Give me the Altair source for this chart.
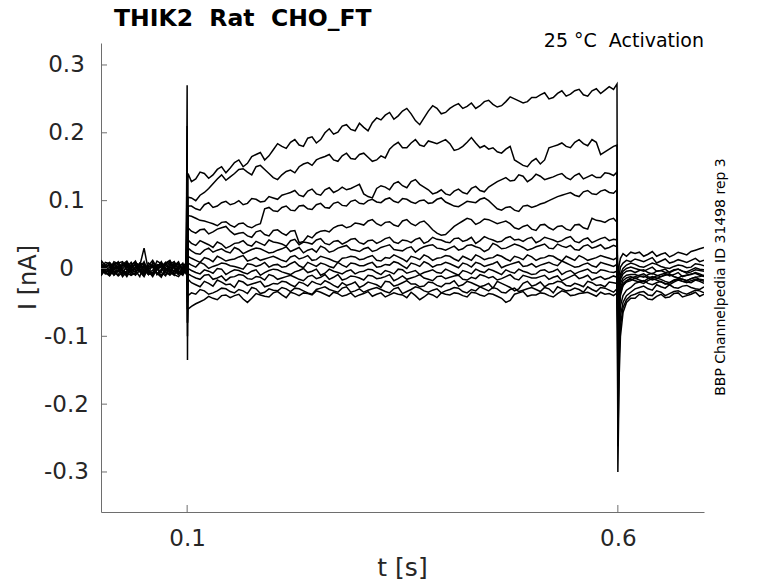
import altair as alt
import pandas as pd

# ---------------- time bases (s) ----------------
T_PRE = [0.0, 0.01, 0.02, 0.03, 0.04, 0.05, 0.06, 0.07, 0.08, 0.09, 0.099]
T_PRE_MID = [0.005, 0.015, 0.025, 0.035, 0.045, 0.055, 0.065, 0.075, 0.085, 0.095]
T_ON = [0.1, 0.1004]
T_STEP = [0.101,
          0.11, 0.12, 0.13, 0.14, 0.15, 0.16, 0.17, 0.18, 0.19, 0.20,
          0.21, 0.22, 0.23, 0.24, 0.25, 0.26, 0.27, 0.28, 0.29, 0.30,
          0.31, 0.32, 0.33, 0.34, 0.35, 0.36, 0.37, 0.38, 0.39, 0.40,
          0.41, 0.42, 0.43, 0.44, 0.45, 0.46, 0.47, 0.48, 0.49, 0.50,
          0.51, 0.52, 0.53, 0.54, 0.55, 0.56, 0.57, 0.58, 0.59,
          0.599]
T_STEP_MID = [0.105, 0.115, 0.125, 0.135, 0.145, 0.155, 0.165, 0.175, 0.185, 0.195,
              0.205, 0.215, 0.225, 0.235, 0.245, 0.255, 0.265, 0.275, 0.285, 0.295,
              0.305, 0.315, 0.325, 0.335, 0.345, 0.355, 0.365, 0.375, 0.385, 0.395,
              0.405, 0.415, 0.425, 0.435, 0.445, 0.455, 0.465, 0.475, 0.485, 0.495,
              0.505, 0.515, 0.525, 0.535, 0.545, 0.555, 0.565, 0.575, 0.585, 0.595]
T_OFF = [0.6, 0.6015, 0.603, 0.606, 0.61, 0.615]
T_POST = [0.62, 0.63, 0.64, 0.65, 0.66, 0.67, 0.68, 0.69, 0.70]
T_POST_MID = [0.625, 0.635, 0.645, 0.655, 0.665, 0.675, 0.685, 0.695]

SWEEPS = ["A", "B", "C", "D", "E", "F", "G", "H", "I", "J", "K", "L", "M", "N"]

# ---------------- currents (pA) ----------------
PRE_PA = {
    "A": [5, -8, 3, -4, 9, -6, 2, -10, 6, -3, 4],
    "B": [-6, 4, -9, 7, -2, 5, -7, 3, -5, 8, -2],
    "C": [10, -3, 6, -8, 1, -4, 12, -6, 2, -9, 5],
    "D": [-2, 7, -5, 9, -10, 3, -6, 8, -3, 6, -7],
    "E": [3, -11, 8, -2, 6, -9, 4, -1, 9, -5, 1],
    "F": [-9, 2, -4, 11, -6, 8, -12, 5, -8, 2, -4],
    "G": [7, -5, 10, -7, 3, -12, 6, -3, 11, -8, 3],
    "H": [-4, 9, -1, 5, -8, 30, -9, 10, -5, 4, -9],
    "I": [1, -7, 4, -12, 8, -2, 9, -11, 3, -6, 7],
    "J": [12, -4, 2, 6, -5, 10, -3, 7, -10, 1, -5],
    "K": [-7, 5, -11, 2, -3, 7, -8, 1, -6, 10, -3],
    "L": [4, -2, 7, -9, 5, -6, 3, -13, 7, -1, 8],
    "M": [-11, 8, -3, 4, -7, 1, -10, 6, -2, -12, 2],
    "N": [6, -10, 1, -5, 11, -8, 5, -4, 12, -7, -1],
}

PRE_MID_PA = {
    "A": [1, -2, -9, 6, 0, -1, -7, -4, 10, -8],
    "B": [3, -5, -1, 2, 8, -8, -2, 9, 3, -4],
    "C": [-5, 8, -2, -3, 7, 4, 1, -11, -4, 2],
    "D": [9, -1, 2, -4, -3, -9, 4, 1, 7, -2],
    "E": [-6, -2, 10, 3, -4, 2, -8, 5, 1, -10],
    "F": [-3, -10, 6, 0, 5, -4, -1, -5, 9, -8],
    "G": [0, 4, -2, -10, -5, 1, -9, 7, 2, -1],
    "H": [5, 2, -8, -6, 4, -3, 1, -2, -10, 6],
    "I": [-8, 2, -3, -1, 5, -9, 0, -4, 6, -2],
    "J": [4, -9, 8, -2, 0, -6, 11, -5, -3, 8],
    "K": [3, -4, -6, 9, -12, -1, 6, -9, 4, -5],
    "L": [-6, 10, -4, 2, -1, 8, -7, 2, -8, 4],
    "M": [-1, -6, 5, -10, 6, -5, 3, -3, -9, -4],
    "N": [-4, 7, -12, 4, -2, 3, -9, 8, 0, -6],
}

ON_PA = {
    "A": [270, -135], "B": [210, -100], "C": [170, -80], "D": [140, -60],
    "E": [110, -50], "F": [90, -40], "G": [70, -30], "H": [60, -25],
    "I": [50, -20], "J": [40, -15], "K": [30, -10], "L": [20, -5],
    "M": [10, -60], "N": [5, -80],
}

STEP_PA = {
    "A": [140,
          132, 140, 138, 150, 148, 160, 155, 168, 160, 175,
          180, 186, 182, 192, 185, 200, 198, 210, 205, 214,
          203, 222, 226, 220, 232, 228, 212, 232, 236, 230,
          240, 236, 244, 240, 248, 238, 246, 250, 244, 252,
          256, 250, 258, 254, 262, 256, 262, 258, 268,
          272],
    "B": [105,
          100, 112, 125, 138, 135, 146, 142, 150, 146, 134,
          138, 145, 150, 156, 160, 165, 160, 166, 162, 168,
          164, 160, 163, 182, 178, 185, 182, 188, 184, 190,
          174, 180, 193, 178, 176, 172, 176, 160, 152, 158,
          154, 178, 182, 180, 186, 184, 190, 168, 176,
          182],
    "C": [92,
          88, 94, 90, 97, 94, 100, 96, 102, 99, 104,
          108, 112, 108, 114, 110, 116, 112, 120, 118, 124,
          106, 118, 120, 125, 122, 128, 124, 116, 112, 110,
          114, 112, 118, 115, 120, 128, 134, 130, 136, 132,
          136, 133, 138, 134, 137, 132, 138, 134, 140,
          142],
    "D": [78,
          74, 70, 66, 68, 64, 66, 62, 64, 88, 85,
          90, 86, 92, 88, 94, 90, 96, 93, 99, 96,
          100, 98, 102, 99, 103, 98, 100, 96, 102, 98,
          92, 95, 98, 102, 100, 88, 90, 86, 92, 90,
          95, 100, 106, 110, 108, 113, 110, 114, 112,
          116],
    "E": [60,
          52, 58, 54, 60, 55, 52, 48, 54, 50, 56,
          52, 55, 38, 48, 52, 56, 60, 64, 62, 66,
          70, 66, 68, 64, 70, 66, 68, 64, 52, 50,
          62, 70, 72, 68, 72, 66, 70, 60, 62, 58,
          64, 60, 62, 58, 64, 60, 74, 70, 72,
          68],
    "F": [42,
          34, 38, 31, 36, 33, 38, 35, 40, 34, 39,
          36, 41, 35, 38, 42, 37, 40, 36, 43, 38,
          41, 37, 44, 39, 42, 38, 45, 40, 43, 39,
          44, 40, 46, 41, 44, 39, 45, 42, 40, 46,
          41, 44, 39, 45, 40, 43, 38, 44, 41,
          42],
    "G": [30,
          22, 27, 24, 29, 23, 28, 25, 30, 26, 24,
          29, 25, 31, 27, 24, 30, 26, 32, 28, 25,
          31, 27, 33, 28, 26, 32, 29, 34, 30, 27,
          33, 29, 35, 30, 28, 34, 30, 36, 31, 29,
          34, 30, 36, 31, 28, 33, 30, 35, 31,
          32],
    "H": [18,
          12, 16, 10, 15, 13, 17, 11, 16, 14, 18,
          12, 17, 14, 19, 13, 16, 11, 15, 18, 13,
          17, 12, 16, 20, 14, 18, 13, 17, 15, 19,
          14, 18, 12, 17, 15, 20, 14, 18, 13, 17,
          15, 19, 14, 18, 12, 16, 14, 19, 15,
          16],
    "I": [8,
          2, 6, 3, 8, 4, 1, 7, 3, 9, 5,
          2, 7, 4, 9, 3, 6, 1, 5, 8, 4,
          7, 2, 6, 10, 4, 8, 3, 7, 5, 9,
          4, 8, 2, 7, 5, 10, 4, 8, 3, 7,
          5, 9, 4, 8, 2, 6, 4, 9, 5,
          6],
    "J": [0,
          -6, -2, -7, -1, -5, -3, -8, -2, -6, -1,
          -5, -9, -3, -6, -1, -7, -4, -8, -2, -5,
          -1, -6, -3, -8, -2, -5, -9, -4, -6, -1,
          -7, -3, -8, -4, -1, -6, -2, -7, -4, -9,
          -3, -6, -1, -5, -8, -3, -6, -2, -5,
          -4],
    "K": [-8,
          -14, -10, -16, -11, -13, -9, -15, -12, -17, -11,
          -14, -10, -16, -12, -15, -9, -13, -17, -11, -14,
          -10, -15, -12, -18, -11, -14, -9, -16, -12, -15,
          -11, -16, -13, -9, -14, -17, -12, -15, -10, -14,
          -12, -16, -11, -15, -9, -13, -17, -12, -14,
          -13],
    "L": [-16,
          -24, -19, -26, -20, -23, -18, -25, -21, -27, -22,
          -19, -24, -20, -26, -22, -18, -25, -21, -23, -28,
          -20, -24, -19, -26, -21, -23, -27, -20, -25, -22,
          -18, -24, -21, -27, -22, -19, -25, -33, -22, -26,
          -20, -23, -19, -25, -22, -27, -21, -24, -20,
          -22],
    "M": [-40,
          -38, -33, -36, -29, -34, -31, -37, -30, -35, -32,
          -28, -34, -30, -36, -31, -27, -33, -29, -35, -30,
          -32, -28, -34, -30, -37, -31, -29, -35, -30, -33,
          -28, -34, -31, -27, -33, -30, -36, -29, -32, -28,
          -34, -30, -27, -33, -29, -35, -31, -28, -32,
          -30],
    "N": [-60,
          -52, -46, -44, -40, -43, -38, -50, -37, -41, -36,
          -39, -35, -40, -37, -33, -38, -35, -41, -36, -39,
          -34, -38, -42, -36, -39, -35, -46, -37, -43, -38,
          -36, -40, -35, -39, -37, -41, -50, -38, -34, -39,
          -36, -40, -37, -35, -39, -36, -38, -35, -37,
          -36],
}

STEP_MID_PA = {
    "A": [128, 142, 133, 146, 141, 156, 150, 165, 171, 166,
          184, 177, 190, 180, 194, 190, 206, 201, 212, 203,
          208, 215, 219, 230, 225, 236, 218, 222, 240, 228,
          236, 243, 239, 236, 246, 242, 240, 253, 247, 246,
          252, 259, 252, 262, 257, 264, 254, 265, 263, 264],
    "B": [104, 108, 118, 132, 130, 140, 147, 138, 152, 140,
          131, 143, 141, 154, 152, 163, 168, 158, 170, 161,
          170, 158, 166, 176, 186, 178, 190, 180, 186, 187,
          184, 176, 186, 185, 181, 178, 170, 180, 156, 150,
          162, 160, 180, 185, 178, 190, 181, 186, 172, 180],
    "C": [92, 86, 97, 92, 99, 96, 94, 103, 98, 106,
          102, 110, 115, 106, 117, 108, 119, 115, 116, 121,
          110, 104, 122, 116, 128, 119, 131, 120, 110, 116,
          108, 117, 110, 121, 113, 124, 131, 129, 138, 128,
          139, 131, 135, 140, 131, 140, 135, 134, 141, 137],
    "D": [77, 71, 68, 63, 69, 61, 67, 60, 66, 90,
          84, 92, 85, 93, 87, 96, 89, 98, 92, 101,
          95, 102, 97, 104, 97, 102, 96, 101, 97, 104,
          95, 91, 99, 97, 104, 94, 86, 91, 84, 93,
          92, 97, 103, 108, 112, 106, 115, 109, 116, 111],
    "E": [55, 57, 51, 58, 62, 50, 53, 46, 56, 48,
          57, 49, 56, 40, 45, 55, 54, 63, 60, 67,
          64, 72, 63, 69, 62, 72, 63, 70, 57, 49,
          56, 66, 74, 65, 73, 69, 68, 66, 58, 64,
          56, 65, 57, 63, 56, 65, 58, 71, 68, 74],
    "F": [37, 41, 35, 39, 30, 37, 41, 33, 37, 42,
          38, 33, 43, 39, 36, 44, 35, 41, 39, 44,
          36, 42, 40, 46, 37, 41, 43, 37, 46, 42,
          38, 45, 42, 37, 47, 42, 40, 47, 43, 44,
          38, 46, 42, 41, 47, 38, 45, 41, 46, 43],
    "G": [26, 21, 30, 27, 25, 31, 22, 28, 29, 23,
          27, 32, 28, 23, 29, 33, 24, 30, 34, 27,
          29, 25, 31, 35, 27, 30, 24, 32, 35, 29,
          30, 27, 34, 32, 25, 37, 29, 33, 34, 27,
          32, 36, 29, 33, 34, 27, 35, 32, 29, 34],
    "H": [15, 9, 14, 18, 11, 14, 19, 13, 12, 16,
          15, 10, 19, 16, 12, 18, 14, 9, 16, 17,
          14, 19, 11, 15, 17, 10, 16, 20, 12, 16,
          18, 11, 15, 20, 13, 16, 18, 11, 16, 20,
          12, 16, 18, 11, 15, 19, 12, 16, 17, 13],
    "I": [5, 9, 0, 5, 7, 3, -1, 6, 5, 2,
          6, 3, 10, 1, 6, 8, 3, 9, 2, 7,
          4, 9, 3, 5, 8, 0, 6, 10, 2, 6,
          7, 1, 6, 9, 3, 7, 1, 6, 10, 4,
          2, 7, 6, 11, 5, 3, 8, 2, 7, 3],
    "J": [-3, -8, -4, 0, -9, -2, -6, -4, -10, -3,
          -2, -7, -5, 0, -4, -10, -1, -6, -4, -8,
          -4, -2, -9, -5, -1, -7, -3, -6, -2, -7,
          -4, -10, -5, -1, -6, -3, -9, -5, -1, -6,
          -8, -2, -4, -9, -3, -5, -1, -7, -3, -6],
    "K": [-11, -16, -9, -14, -18, -12, -10, -16, -13, -9,
          -16, -12, -13, -18, -10, -13, -16, -9, -15, -12,
          -17, -11, -14, -9, -15, -16, -12, -14, -18, -11,
          -13, -10, -17, -15, -11, -12, -15, -9, -17, -12,
          -14, -10, -13, -18, -12, -15, -10, -14, -16, -11],
    "L": [-21, -27, -22, -17, -24, -28, -20, -23, -19, -25,
          -23, -20, -27, -22, -19, -24, -21, -28, -25, -20,
          -25, -22, -28, -20, -24, -18, -23, -26, -21, -27,
          -22, -26, -19, -24, -25, -29, -22, -28, -30, -19,
          -24, -27, -22, -20, -26, -24, -19, -25, -27, -21],
    "M": [-36, -31, -38, -33, -30, -36, -33, -28, -37, -30,
          -33, -30, -29, -33, -38, -29, -31, -35, -27, -33,
          -35, -30, -31, -36, -28, -34, -27, -33, -32, -36,
          -31, -29, -36, -33, -30, -28, -35, -31, -34, -30,
          -31, -28, -36, -30, -32, -31, -27, -34, -29, -35],
    "N": [-56, -49, -41, -46, -39, -40, -45, -44, -39, -42,
          -34, -43, -37, -36, -39, -35, -41, -37, -39, -42,
          -37, -41, -36, -39, -38, -43, -40, -42, -39, -36,
          -39, -37, -42, -36, -41, -38, -44, -47, -36, -41,
          -39, -37, -42, -33, -40, -37, -35, -41, -38, -40],
}

OFF_PA = {
    "A": [-300, -160, -100, -65, -50, -44],
    "B": [-262, -130, -85, -58, -46, -40],
    "C": [-225, -110, -70, -50, -40, -35],
    "D": [-185, -90, -55, -40, -32, -28],
    "E": [-150, -70, -40, -25, -18, -14],
    "F": [-20, 5, 15, 22, 18, 24],
    "G": [-30, -10, 2, 8, 12, 10],
    "H": [-40, -20, -8, 0, 5, 8],
    "I": [-50, -25, -12, -4, 0, 2],
    "J": [-60, -30, -16, -8, -4, -3],
    "K": [-70, -35, -22, -14, -10, -9],
    "L": [-80, -45, -28, -18, -14, -12],
    "M": [-90, -50, -32, -22, -18, -16],
    "N": [-100, -55, -35, -25, -20, -18],
}

POST_PA = {
    "A": [-44, -40, -46, -38, -42, -36, -40, -35, -38],
    "B": [-38, -34, -40, -35, -37, -33, -38, -32, -36],
    "C": [-30, -26, -32, -27, -24, -29, -25, -30, -27],
    "D": [-22, -18, -24, -19, -21, -16, -20, -17, -22],
    "E": [-12, -8, -14, -9, -11, -6, -10, -7, -12],
    "F": [22, 18, 25, 21, 17, 24, 20, 27, 31],
    "G": [14, 10, 16, 11, 8, 13, 9, 15, 12],
    "H": [6, 2, 8, 3, 0, 5, 1, 7, 4],
    "I": [0, -4, 2, -3, -6, -1, -5, 1, -2],
    "J": [-6, -2, -8, -3, -5, -1, -7, -2, -4],
    "K": [-9, -13, -7, -12, -8, -14, -10, -6, -11],
    "L": [-15, -11, -17, -12, -9, -14, -18, -13, -10],
    "M": [-18, -22, -15, -20, -24, -17, -21, -16, -19],
    "N": [-14, -19, -12, -16, -21, -15, -18, -13, -17],
}

POST_MID_PA = {
    "A": [-38, -45, -41, -43, -37, -42, -38, -41],
    "B": [-35, -39, -33, -40, -34, -36, -35, -33],
    "C": [-28, -30, -24, -29, -28, -26, -28, -31],
    "D": [-20, -22, -21, -23, -18, -19, -21, -19],
    "E": [-10, -12, -11, -7, -9, -12, -8, -10],
    "F": [24, 21, 18, 23, 20, 22, 25, 29],
    "G": [12, 13, 8, 14, 10, 11, 12, 10],
    "H": [3, 5, 6, 1, 3, 4, 2, 6],
    "I": [-2, -1, -4, -1, -3, -4, -2, -1],
    "J": [-3, -6, -4, -6, -2, -4, -5, -3],
    "K": [-11, -9, -10, -9, -12, -11, -9, -8],
    "L": [-12, -14, -15, -10, -12, -16, -15, -12],
    "M": [-20, -18, -17, -22, -20, -19, -18, -17],
    "N": [-17, -15, -14, -19, -17, -16, -15, -16],
}

X_TICKS = [0.1, 0.6]
Y_TICKS = [-0.3, -0.2, -0.1, 0, 0.1, 0.2, 0.3]

TITLE = "THIK2\u00a0\u00a0Rat\u00a0\u00a0CHO_FT"
SUBTITLE = "25 \u00b0C\u00a0\u00a0Activation"
SIDE = "BBP Channelpedia ID 31498 rep 3"

# ---------------- build table ----------------
SEGMENTS = ((T_PRE, PRE_PA), (T_PRE_MID, PRE_MID_PA), (T_ON, ON_PA),
            (T_STEP, STEP_PA), (T_STEP_MID, STEP_MID_PA), (T_OFF, OFF_PA),
            (T_POST, POST_PA), (T_POST_MID, POST_MID_PA))
rows = []
for s in SWEEPS:
    for seg_t, seg in SEGMENTS:
        for t, v in zip(seg_t, seg[s]):
            rows.append({"sweep": s, "t": t, "I": v / 1000.0})
df = pd.DataFrame(rows).sort_values(["sweep", "t"]).reset_index(drop=True)

FONT = "DejaVu Sans"
W, H = 603, 469
AX = "#262626"
AXLINE = "#6e6e6e"

xs = alt.Scale(domain=[0, 0.7], nice=False, zero=False)
ys = alt.Scale(domain=[-0.359, 0.3324], nice=False, zero=False)

y_label_expr = ("datum.value == 0 ? '0' : (datum.value < 0 ? '-' + format(-datum.value, '.1f')"
                " : format(datum.value, '.1f'))")

lines = alt.Chart(df).mark_line(color="black", strokeWidth=1.5, clip=True).encode(
    x=alt.X("t:Q", scale=xs,
            axis=alt.Axis(values=X_TICKS, format=".1f", title=None, ticks=False,
                          grid=False, labelPadding=15, labelFontSize=23,
                          labelFont=FONT, labelColor=AX,
                          domainColor=AXLINE, domainWidth=1)),
    y=alt.Y("I:Q", scale=ys,
            axis=alt.Axis(values=Y_TICKS, labelExpr=y_label_expr, title=None, ticks=False,
                          grid=False, labelAlign="center", labelPadding=35,
                          labelFontSize=23, labelFont=FONT, labelColor=AX,
                          domainColor=AXLINE, domainWidth=1)),
    detail="sweep:N",
)

ytick_layer = alt.Chart(pd.DataFrame({"I": Y_TICKS})).mark_rule(color=AXLINE, strokeWidth=1).encode(
    y=alt.Y("I:Q", scale=ys), x=alt.value(0), x2=alt.value(6))
xtick_layer = alt.Chart(pd.DataFrame({"t": X_TICKS})).mark_rule(color=AXLINE, strokeWidth=1).encode(
    x=alt.X("t:Q", scale=xs), y=alt.value(H), y2=alt.value(H - 7))


def text_layer(txt, x, y, size, weight="normal", align="left", angle=0, color="black"):
    return alt.Chart(pd.DataFrame({"txt": [txt]})).mark_text(
        align=align, baseline="alphabetic", fontSize=size, fontWeight=weight,
        font=FONT, color=color, angle=angle,
    ).encode(x=alt.value(x), y=alt.value(y), text="txt:N")


title_l = text_layer(TITLE, 13, -17, 23.5, weight="bold")
sub_l = text_layer(SUBTITLE, W, 4, 19, align="right")
side_l = text_layer(SIDE, 624, 234, 14, align="center", angle=270)
xtitle_l = text_layer("t [s]", W / 2, 533, 25, align="center", color=AX)
ytitle_l = text_layer("I [nA]", -65, H / 2, 24, align="center", angle=270, color=AX)

chart = alt.layer(
    lines, ytick_layer, xtick_layer, title_l, sub_l, side_l, xtitle_l, ytitle_l
).properties(
    width=W, height=H,
    autosize=alt.AutoSizeParams(type="none"),
    padding={"left": 93, "top": 35, "right": 66, "bottom": 70},
    background="white",
).configure_view(strokeWidth=0, stroke="transparent")

chart.save("out.html", embed_options={"renderer": "svg", "actions": False})
